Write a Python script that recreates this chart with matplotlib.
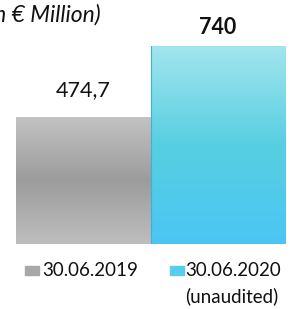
import numpy as np
import matplotlib.pyplot as plt
from matplotlib.colors import LinearSegmentedColormap
from matplotlib.patches import Rectangle
from matplotlib.transforms import offset_copy

plt.rcParams['font.family'] = ['Lato', 'DejaVu Sans']

# data
dates = ['30.06.2019', '30.06.2020']
notes = ['', '(unaudited)']
values = [474.7, 740]
value_labels = ['474,7', '740']
label_weights = ['normal', 'bold']

# vertical gradients (top -> bottom)
gradients = [
    ['#c3c3c3', '#9c9c9c', '#bebebe'],
    ['#a2e5ee', '#57cfe1', '#4bc6f4'],
]
swatch_colors = ['#a8a8a8', '#58cdee']

fig = plt.figure(figsize=(2.90, 3.09), dpi=100)
ax = fig.add_axes([16 / 290, 65 / 309, 269 / 290, 198 / 309])
ax.axis('off')

x = np.arange(len(values))
bars = ax.bar(x, values, width=1.0, color='none', edgecolor='none')

for bar, grad in zip(bars, gradients):
    cmap = LinearSegmentedColormap.from_list('g', grad)
    x0, w, h = bar.get_x(), bar.get_width(), bar.get_height()
    img = ax.imshow(np.linspace(0, 1, 256).reshape(-1, 1), cmap=cmap,
                    extent=[x0, x0 + w, 0, h], aspect='auto', zorder=1,
                    origin='upper')
    img.set_clip_path(bar)

ax.set_xlim(-0.5, 1.5)
ax.set_ylim(0, 740)

# thin edge between bars
ax.plot([0.5, 0.5], [0, values[1]], color='#3cb3d6', lw=0.8, zorder=2)

gaps = [12, 6]  # points above bar top
for xi, v, lab, wt, g in zip(x, values, value_labels, label_weights, gaps):
    tr = offset_copy(ax.transData, fig=fig, x=0, y=g, units='points')
    ax.text(xi, v, lab, ha='center', va='bottom', fontsize=15.5,
            fontweight=wt, color='#111111', clip_on=False, transform=tr)

fig.text(101 / 290, 1 - 15 / 309, '(in € Million)', ha='right', va='center',
         fontsize=16.5, style='italic', color='#111111')

# legend
sw_x = [25, 170]
tx_x = [42, 185]
for i in range(len(dates)):
    fig.patches.append(Rectangle((sw_x[i] / 290, 1 - 275 / 309), 14 / 290, 9 / 309,
                                 transform=fig.transFigure, color=swatch_colors[i]))
    fig.text(tx_x[i] / 290, 1 - 270 / 309, dates[i], ha='left', va='center',
             fontsize=13.5, color='#111111')
    if notes[i]:
        fig.text(tx_x[i] / 290, 1 - 296 / 309, notes[i], ha='left', va='center',
                 fontsize=13.5, color='#111111')

fig.savefig('out.png', dpi=100)
